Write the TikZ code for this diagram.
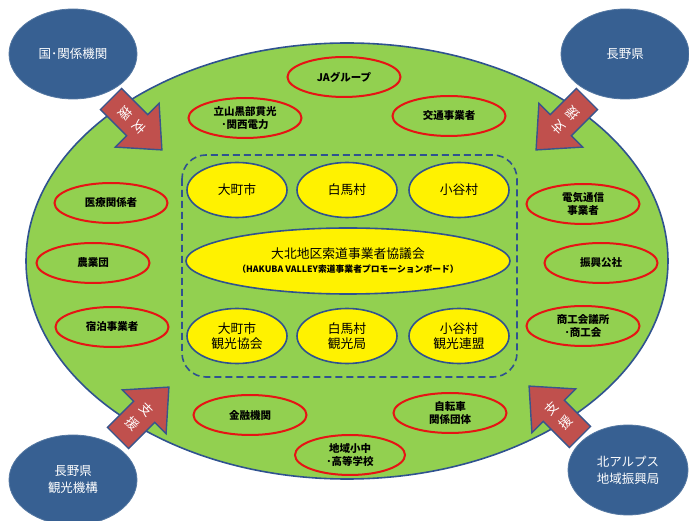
\documentclass[tikz,border=0pt]{standalone}
\usepackage{fontspec}
\setmainfont{Noto Sans CJK JP}
\usetikzlibrary{shapes.geometric}
\definecolor{fieldgreen}{RGB}{146,208,80}
\definecolor{rimblue}{RGB}{47,82,143}
\definecolor{orgblue}{RGB}{55,96,146}
\definecolor{arrowred}{RGB}{192,80,77}
\definecolor{arrowrim}{RGB}{56,85,140}
\definecolor{ringred}{RGB}{230,20,20}
\tikzset{
  field/.style={ellipse, draw=rimblue, line width=1.6pt, fill=fieldgreen, inner sep=0pt},
  org/.style={ellipse, draw=orgblue!85!white, line width=0.8pt, fill=orgblue, text=white,
    inner sep=0pt, minimum width=128pt, minimum height=90pt, align=center,
    font=\fontsize{12.5}{17}\selectfont},
  partner/.style={ellipse, draw=ringred, line width=2pt, inner sep=0pt,
    minimum width=113pt, minimum height=40pt, align=center,
    font=\bfseries\fontsize{10.5}{13}\selectfont},
  member/.style={ellipse, draw=rimblue, line width=1.6pt, fill=yellow, inner sep=0pt,
    minimum width=100pt, minimum height=55pt, align=center,
    font=\fontsize{12.8}{15}\selectfont},
  council/.style={member, minimum width=324pt, minimum height=66pt},
  groupbox/.style={draw=rimblue, line width=1.6pt, dash pattern=on 7pt off 4pt, rounded corners=24pt},
  supportarrow/.style={draw=arrowrim, line width=1.4pt, fill=arrowred, line join=miter},
  supporttext/.style={text=white, align=center, inner sep=0pt, font=\fontsize{13}{20}\selectfont}
}
\newcommand\shienarrow[5]{%
  \begin{scope}[shift={(#1,#2)}, rotate=#3]
    \draw[supportarrow] (0,-15) -- (37,-15) -- (37,-31) -- (72,0) -- (37,31) -- (37,15) -- (0,15) -- cycle;
    \node[supporttext, rotate=#4] (#5) at (30,0) {支\\援};
  \end{scope}}
\begin{document}
\begin{tikzpicture}[x=1pt,y=-1pt]
\useasboundingbox (0,0) rectangle (689,521);
% main field
\node[field, minimum width=642pt, minimum height=436pt] (fieldarea) at (347,261) {};
% outer organisations
\node[org] (kuni) at (73,54) {国･関係機関};
\node[org] (ken) at (625,54) {長野県};
\node[org] (kanko) at (73,480) {長野県\\観光機構};
\node[org, minimum width=120pt] (hokuA) at (628,470) {北アルプス\\地域振興局};
% support arrows
\shienarrow{111}{99}{-45}{-135}{arrowTL}
\shienarrow{587}{99}{-135}{135}{arrowTR}
\shienarrow{118}{438}{45}{-45}{arrowBL}
\shienarrow{580}{437}{135}{45}{arrowBR}
% partners
\node[partner] (ja) at (344,77) {JAグループ};
\node[partner] (tateyama) at (245,118) {立山黒部貫光\\･関西電力};
\node[partner] (kotsu) at (449,116) {交通事業者};
\node[partner] (iryo) at (111,203) {医療関係者};
\node[partner] (nogyo) at (93,263) {農業団};
\node[partner] (shukuhaku) at (112,327) {宿泊事業者};
\node[partner] (denki) at (583,204) {電気通信\\事業者};
\node[partner] (shinko) at (601,263) {振興公社};
\node[partner] (shoko) at (583,326) {商工会議所\\･商工会};
\node[partner] (kinyu) at (250,415) {金融機関};
\node[partner] (jitensha) at (450,413) {自転車\\関係団体};
\node[partner, minimum width=110pt] (gakko) at (350,455) {地域小中\\･高等学校};
% core group
\draw[groupbox] (182,155) rectangle (517,377);
\node[member] (omachi) at (237,190) {大町市};
\node[member] (hakuba) at (347,190) {白馬村};
\node[member] (otari) at (459,190) {小谷村};
\node[council] (council) at (348,261) {大北地区索道事業者協議会\\[-1pt]{\bfseries\fontsize{8.8}{10}\selectfont （HAKUBA VALLEY索道事業者プロモーションボード）}};
\node[member] (omachiK) at (237,336) {大町市\\観光協会};
\node[member] (hakubaK) at (347,336) {白馬村\\観光局};
\node[member] (otariK) at (459,336) {小谷村\\観光連盟};
\end{tikzpicture}
\end{document}
